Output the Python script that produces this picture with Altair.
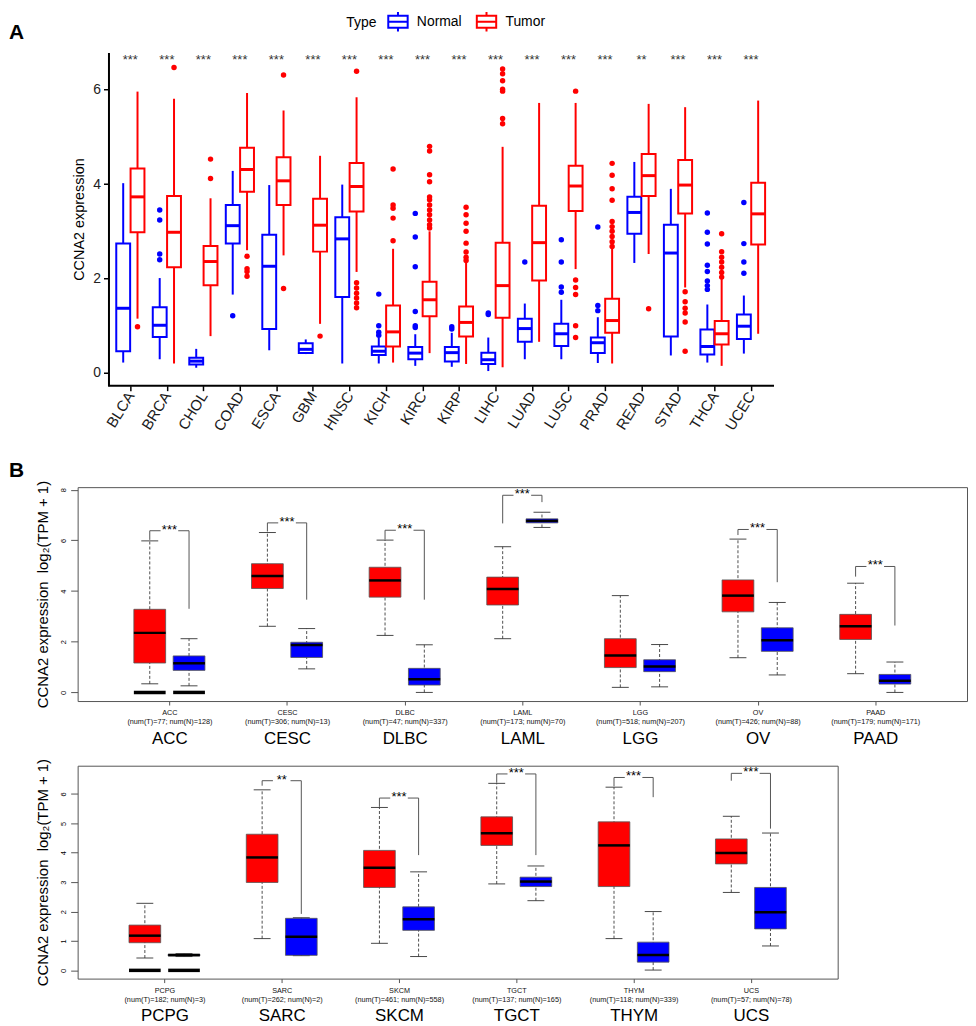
import json
import altair as alt
import pandas as pd

FONT = "Liberation Sans"

# ---------------- Panel A data ----------------
a_cancers = ["BLCA", "BRCA", "CHOL", "COAD", "ESCA", "GBM", "HNSC", "KICH", "KIRC",
             "KIRP", "LIHC", "LUAD", "LUSC", "PRAD", "READ", "STAD", "THCA", "UCEC"]
a_sig = ["***", "***", "***", "***", "***", "***", "***", "***", "***",
         "***", "***", "***", "***", "***", "**", "***", "***", "***"]

a_n_lo = [0.22, 0.29, 0.11, 1.66, 0.48, 0.40, 0.20, 0.20, 0.15, 0.13, 0.04, 0.29, 0.29, 0.21, 2.33, 0.37, 0.22, 0.41]
a_n_q1 = [0.46, 0.76, 0.18, 2.74, 0.93, 0.42, 1.61, 0.38, 0.29, 0.24, 0.19, 0.66, 0.57, 0.42, 2.95, 0.77, 0.39, 0.72]
a_n_med = [1.37, 1.01, 0.25, 3.12, 2.26, 0.50, 2.84, 0.46, 0.42, 0.43, 0.28, 0.94, 0.83, 0.64, 3.40, 2.54, 0.56, 0.99]
a_n_q3 = [2.74, 1.39, 0.32, 3.56, 2.93, 0.63, 3.30, 0.56, 0.55, 0.55, 0.43, 1.15, 1.04, 0.75, 3.73, 3.14, 0.92, 1.24]
a_n_hi = [4.02, 2.01, 0.51, 4.28, 3.98, 0.71, 3.99, 0.75, 0.82, 0.85, 0.75, 1.47, 1.55, 1.18, 4.47, 3.90, 1.45, 1.64]
a_n_out = [[], [3.45, 3.24, 2.52, 2.40], [], [1.21], [], [], [], [1.67, 1.00, 0.86, 0.80],
           [3.38, 2.88, 2.25, 1.30, 1.00, 0.96], [0.98, 0.93], [1.27, 1.24], [2.35],
           [2.82, 2.35, 1.82, 1.71], [3.09, 1.43, 1.32], [], [],
           [3.39, 2.98, 2.73, 2.28, 2.15, 1.95, 1.85, 1.77], [3.61, 2.74, 2.35, 2.11]]

a_t_lo = [1.15, 0.20, 0.78, 2.60, 2.49, 1.04, 2.14, 0.22, 0.42, 0.19, 0.12, 0.66, 2.20, 0.20, 2.52, 1.81, 0.15, 0.83]
a_t_q1 = [2.98, 2.24, 1.86, 3.84, 3.56, 2.57, 3.42, 0.56, 1.20, 0.77, 1.17, 1.96, 3.43, 0.85, 3.75, 3.38, 0.60, 2.72]
a_t_med = [3.73, 2.98, 2.36, 4.31, 4.07, 3.13, 3.95, 0.87, 1.55, 1.07, 1.85, 2.76, 3.96, 1.11, 4.18, 3.98, 0.83, 3.37]
a_t_q3 = [4.33, 3.75, 2.69, 4.77, 4.57, 3.69, 4.45, 1.43, 1.93, 1.41, 2.76, 3.54, 4.39, 1.57, 4.64, 4.51, 1.10, 4.03]
a_t_hi = [5.96, 5.81, 3.70, 5.93, 5.56, 4.60, 5.84, 2.63, 3.00, 2.33, 4.79, 5.72, 5.72, 2.64, 5.70, 5.63, 2.01, 5.77]
a_t_out = [[0.98], [6.47], [4.53, 4.12], [2.47, 2.21, 2.15, 2.05], [6.31, 1.79], [0.78],
           [6.39, 1.91, 1.80, 1.69, 1.59, 1.48, 1.38], [4.32, 3.56, 3.49, 3.28, 2.80],
           [4.80, 4.70, 4.20, 4.05, 3.73, 3.67, 3.56, 3.45, 3.35, 3.24, 3.14, 3.07],
           [3.51, 3.35, 3.17, 3.00, 2.75, 2.56, 2.45, 2.38],
           [6.44, 6.34, 6.19, 6.01, 5.97, 5.39, 5.28], [],
           [5.97, 1.97, 1.81, 1.66, 1.00, 0.75],
           [4.44, 4.19, 3.90, 3.66, 3.21, 3.10, 3.00, 2.89, 2.78, 2.68], [1.36],
           [1.72, 1.51, 1.37, 1.27, 1.08, 0.46], [2.95, 2.57, 2.45, 2.35, 2.24, 2.13, 2.03], []]
a_star_y = 6.54

# ---------------- Panel B data (row 1) ----------------
b1_cancers = ["ACC", "CESC", "DLBC", "LAML", "LGG", "OV", "PAAD"]
b1_num_t = [77, 306, 47, 173, 518, 426, 179]
b1_num_n = [128, 13, 337, 70, 207, 88, 171]
b1_t_lo = [0.34, 2.61, 2.25, 2.12, 0.20, 1.37, 0.74]
b1_t_q1 = [1.16, 4.10, 3.76, 3.45, 0.98, 3.18, 2.09]
b1_t_med = [2.35, 4.59, 4.42, 4.08, 1.46, 3.82, 2.61]
b1_t_q3 = [3.28, 5.08, 4.94, 4.55, 2.12, 4.44, 3.08]
b1_t_hi = [5.98, 6.31, 6.01, 5.75, 3.82, 6.05, 4.31]
b1_n_lo = [0.26, 0.93, 0.00, 6.51, 0.22, 0.69, 0.00]
b1_n_q1 = [0.87, 1.38, 0.29, 6.69, 0.82, 1.62, 0.33]
b1_n_med = [1.15, 1.87, 0.52, 6.77, 1.02, 2.06, 0.46]
b1_n_q3 = [1.44, 1.98, 0.95, 6.85, 1.29, 2.55, 0.71]
b1_n_hi = [2.12, 2.52, 1.88, 7.11, 1.89, 3.55, 1.20]
b1_zero = [("ACC", "Tumor"), ("ACC", "Normal")]
b1_br_cat = ["ACC", "CESC", "DLBC", "LAML", "OV", "PAAD"]
b1_br_top = [6.38, 6.69, 6.40, 7.78, 6.43, 4.97]
b1_br_left = [6.02, 6.35, 6.03, 6.67, 6.21, 4.57]
b1_br_right = [3.30, 3.66, 3.66, 7.51, 4.35, 2.64]
b1_br_sig = ["***", "***", "***", "***", "***", "***"]

# ---------------- Panel B data (row 2) ----------------
b2_cancers = ["PCPG", "SARC", "SKCM", "TGCT", "THYM", "UCS"]
b2_num_t = [182, 262, 461, 137, 118, 57]
b2_num_n = [3, 2, 558, 165, 339, 78]
b2_t_lo = [0.42, 1.08, 0.92, 2.94, 1.08, 2.65]
b2_t_q1 = [0.94, 2.99, 2.82, 4.25, 2.85, 3.62]
b2_t_med = [1.18, 3.84, 3.49, 4.66, 4.25, 3.99]
b2_t_q3 = [1.54, 4.63, 4.08, 5.22, 5.05, 4.47]
b2_t_hi = [2.28, 6.14, 5.54, 6.36, 6.23, 5.24]
b2_n_lo = [0.47, 0.50, 0.47, 2.37, 0.01, 0.83]
b2_n_q1 = [0.49, 0.51, 1.36, 2.85, 0.28, 1.41]
b2_n_med = [0.52, 1.14, 1.74, 3.02, 0.52, 1.98]
b2_n_q3 = [0.55, 1.77, 2.16, 3.17, 0.96, 2.82]
b2_n_hi = [0.57, 1.79, 3.35, 3.55, 2.00, 4.67]
b2_zero = [("PCPG", "Tumor"), ("PCPG", "Normal")]
b2_br_cat = ["SARC", "SKCM", "TGCT", "THYM", "UCS"]
b2_br_top = [6.45, 5.86, 6.68, 6.56, 6.70]
b2_br_left = [6.28, 5.56, 6.38, 6.26, 6.45]
b2_br_right = [1.92, 3.92, 3.92, 5.89, 4.82]
b2_br_sig = ["**", "***", "***", "***", "***"]

# ---------------- Panel A chart ----------------
A_OFF = 0.196
A_HALF = 0.19
a_rows, a_out_rows = [], []
for i, c in enumerate(a_cancers):
    for grp, sgn, st, outs in (("Normal", -1, (a_n_lo, a_n_q1, a_n_med, a_n_q3, a_n_hi), a_n_out),
                               ("Tumor", 1, (a_t_lo, a_t_q1, a_t_med, a_t_q3, a_t_hi), a_t_out)):
        p = i + sgn * A_OFF
        a_rows.append({"cancer": c, "grp": grp, "pos": p, "x0": p - A_HALF, "x1": p + A_HALF,
                       "lo": st[0][i], "q1": st[1][i], "med": st[2][i], "q3": st[3][i], "hi": st[4][i]})
        for v in outs[i]:
            a_out_rows.append({"cancer": c, "grp": grp, "pos": p, "val": v})
a_box = pd.DataFrame(a_rows)
a_outs = pd.DataFrame(a_out_rows)
a_stars = pd.DataFrame({"i": list(range(len(a_cancers))), "sig": a_sig, "y": [a_star_y] * len(a_cancers)})

AX_DOM = [-1.444, 17.63]
AY_DOM = [-0.27, 6.79]
ax_scale = alt.Scale(domain=AX_DOM, nice=False, zero=False)
ay_scale = alt.Scale(domain=AY_DOM, nice=False, zero=False)
col_scale = alt.Scale(domain=["Normal", "Tumor"], range=["#0000FF", "#FF0000"])
box_path = "M-1,-0.62H1V0.62H-1Z M-1,0H1 M0,-0.62V-1 M0,0.62V1"
a_legend = alt.Legend(title="Type", orient="none", legendX=270, legendY=-42, direction="horizontal",
                      titleOrient="left", symbolType=box_path, symbolSize=380, symbolStrokeWidth=2,
                      symbolFillColor="white", labelFontSize=14, titleFontSize=14,
                      titleFontWeight="normal", titleColor="black", labelColor="black",
                      columnPadding=10, titlePadding=10, labelOffset=8, titleBaseline="middle",
                      titleAnchor="middle")
stroke_enc = alt.Stroke("grp:N", scale=col_scale, legend=a_legend)

a_xaxis = alt.Axis(values=list(range(len(a_cancers))),
                   labelExpr=json.dumps(a_cancers) + "[datum.value]",
                   domain=False, ticks=True, tickColor="black", tickWidth=1.5, tickSize=5,
                   labelAngle=-58, labelAlign="right", labelBaseline="middle", labelFontSize=15,
                   labelColor="#1a1a1a", labelPadding=2, grid=False, title=None)
a_yaxis = alt.Axis(values=[0, 2, 4, 6], offset=-31, domainColor="black", domainWidth=2,
                   tickColor="black", tickWidth=1.5, tickSize=5, labelFontSize=14,
                   labelColor="#222222", labelPadding=3, grid=False, title="CCNA2 expression",
                   titleFontSize=14.5, titleFontWeight="normal", titleColor="black", titlePadding=6)

base_a = alt.Chart(a_box)
a_axisline = alt.Chart(pd.DataFrame({"x": [-0.608], "x2": [AX_DOM[1]], "y": [AY_DOM[0]]})).mark_rule(
    color="black", strokeWidth=2).encode(
    x=alt.X("x:Q", scale=ax_scale, axis=None), x2="x2:Q", y=alt.Y("y:Q", scale=ay_scale, axis=None))
a_whisk = base_a.mark_rule(strokeWidth=2).encode(
    x=alt.X("pos:Q", scale=ax_scale, axis=None), y=alt.Y("lo:Q", scale=ay_scale, axis=None), y2="hi:Q",
    stroke=stroke_enc)
a_boxes = base_a.mark_rect(fill="white", strokeWidth=2).encode(
    x=alt.X("x0:Q", scale=ax_scale, axis=a_xaxis), x2="x1:Q",
    y=alt.Y("q1:Q", scale=ay_scale, axis=a_yaxis), y2="q3:Q", stroke=stroke_enc)
a_meds = base_a.mark_rule(strokeWidth=3).encode(
    x=alt.X("x0:Q", scale=ax_scale, axis=None), x2="x1:Q",
    y=alt.Y("med:Q", scale=ay_scale, axis=None), stroke=stroke_enc)
a_pts_n = alt.Chart(a_outs).transform_filter(alt.datum.grp == "Normal").mark_circle(
    size=30, opacity=1, color="#0000FF").encode(
    x=alt.X("pos:Q", scale=ax_scale, axis=None), y=alt.Y("val:Q", scale=ay_scale, axis=None))
a_pts_t = alt.Chart(a_outs).transform_filter(alt.datum.grp == "Tumor").mark_circle(
    size=30, opacity=1, color="#FF0000").encode(
    x=alt.X("pos:Q", scale=ax_scale, axis=None), y=alt.Y("val:Q", scale=ay_scale, axis=None))
a_txt = alt.Chart(a_stars).mark_text(fontSize=13, color="#333333", baseline="alphabetic").encode(
    x=alt.X("i:Q", scale=ax_scale, axis=None), y=alt.Y("y:Q", scale=ay_scale, axis=None), text="sig:N")
a_letter = alt.Chart(pd.DataFrame({"t": ["A"]})).mark_text(
    fontSize=21, fontWeight="bold", align="left", baseline="alphabetic", color="black").encode(
    x=alt.value(-69), y=alt.value(-13), text="t:N")

chart_a = alt.layer(a_axisline, a_whisk, a_boxes, a_meds, a_pts_n, a_pts_t, a_txt, a_letter).resolve_axis(
    x="independent", y="independent").properties(
    width=700, height=335, view=alt.ViewBackground(stroke="transparent"))

# ---------------- Panel B charts ----------------
B_OFF = 0.167
B_HALF = 0.135
B_CAP = 0.072
B_GAP = 0.075
fill_scale = alt.Scale(domain=["Tumor", "Normal"], range=["#FF0000", "#0000FF"])


def b_panel(cancers, num_t, num_n, t_stats, n_stats, zero_bars, br_cat, br_top, br_left, br_right,
            br_sig, xdom, ydom, yticks, width, height, big_pad, letter=None):
    rows = []
    for i, c in enumerate(cancers):
        for grp, sgn, st in (("Tumor", -1, t_stats), ("Normal", 1, n_stats)):
            p = i + sgn * B_OFF
            rows.append({"cancer": c, "grp": grp, "pos": p, "x0": p - B_HALF, "x1": p + B_HALF,
                         "c0": p - B_CAP, "c1": p + B_CAP,
                         "lo": st[0][i], "q1": st[1][i], "med": st[2][i], "q3": st[3][i], "hi": st[4][i]})
    box = pd.DataFrame(rows)
    zrows = []
    for c, grp in zero_bars:
        i = cancers.index(c)
        p = i + (-1 if grp == "Tumor" else 1) * B_OFF
        zrows.append({"x0": p - B_HALF, "x1": p + B_HALF, "y": 0.0})
    zero = pd.DataFrame(zrows)
    segs, stars = [], []
    for c, top, le, ri, s in zip(br_cat, br_top, br_left, br_right, br_sig):
        i = cancers.index(c)
        xt, xn = i - B_OFF, i + B_OFF
        segs += [{"x": xt, "x2": i - B_GAP, "y": top, "y2": top},
                 {"x": i + B_GAP, "x2": xn, "y": top, "y2": top},
                 {"x": xt, "x2": xt, "y": top, "y2": le},
                 {"x": xn, "x2": xn, "y": top, "y2": ri}]
        stars.append({"i": i, "y": top, "sig": s})
    segs = pd.DataFrame(segs)
    stars = pd.DataFrame(stars)

    xs = alt.Scale(domain=xdom, nice=False, zero=False)
    ys = alt.Scale(domain=ydom, nice=False, zero=False)
    nums = ["(num(T)=%d; num(N)=%d)" % (t, n) for t, n in zip(num_t, num_n)]
    vals = list(range(len(cancers)))
    small_axis = alt.Axis(values=vals, orient="bottom",
                          labelExpr="[" + json.dumps(cancers) + "[datum.value], " + json.dumps(nums) + "[datum.value]]",
                          domain=False, ticks=True, tickSize=4, tickColor="#555555", labelFontSize=7.3,
                          labelLineHeight=9, labelPadding=4, labelBaseline="top", labelColor="#111111",
                          grid=False, title=None)
    big_axis = alt.Axis(values=vals, orient="bottom", labelExpr=json.dumps(cancers) + "[datum.value]",
                        domain=False, ticks=False, labelFontSize=17, labelPadding=big_pad,
                        labelBaseline="alphabetic", labelColor="black", grid=False, title=None)
    y_axis = alt.Axis(values=yticks, orient="left", domain=False, tickSize=7, tickColor="#555555",
                      labelAngle=-90, labelAlign="center", labelBaseline="bottom", labelFontSize=7.5,
                      labelColor="black", labelPadding=3, grid=False,
                      title="CCNA2 expression\u00a0\u00a0log\u2082(TPM + 1)", titleFontSize=15,
                      titleFontWeight="normal", titleColor="black", titlePadding=9)

    base = alt.Chart(box)
    whisk = base.mark_rule(color="#222222", strokeWidth=0.8, strokeDash=[3, 2]).encode(
        x=alt.X("pos:Q", scale=xs, axis=big_axis), y=alt.Y("lo:Q", scale=ys, axis=None), y2="hi:Q")
    cap_hi = base.mark_rule(color="#333333", strokeWidth=0.9).encode(
        x=alt.X("c0:Q", scale=xs, axis=None), x2="c1:Q", y=alt.Y("hi:Q", scale=ys, axis=None))
    cap_lo = base.mark_rule(color="#333333", strokeWidth=0.9).encode(
        x=alt.X("c0:Q", scale=xs, axis=None), x2="c1:Q", y=alt.Y("lo:Q", scale=ys, axis=None))
    boxes = base.mark_rect(stroke="#555555", strokeWidth=0.8).encode(
        x=alt.X("x0:Q", scale=xs, axis=small_axis), x2="x1:Q",
        y=alt.Y("q1:Q", scale=ys, axis=y_axis), y2="q3:Q",
        fill=alt.Fill("grp:N", scale=fill_scale, legend=None))
    meds = base.mark_rule(color="black", strokeWidth=2.5).encode(
        x=alt.X("x0:Q", scale=xs, axis=None), x2="x1:Q", y=alt.Y("med:Q", scale=ys, axis=None))
    layers = [whisk, cap_hi, cap_lo, boxes, meds]
    if len(zero):
        layers.append(alt.Chart(zero).mark_rule(color="black", strokeWidth=3.5).encode(
            x=alt.X("x0:Q", scale=xs, axis=None), x2="x1:Q", y=alt.Y("y:Q", scale=ys, axis=None)))
    layers.append(alt.Chart(segs).mark_rule(color="#555555", strokeWidth=1).encode(
        x=alt.X("x:Q", scale=xs, axis=None), x2="x2:Q", y=alt.Y("y:Q", scale=ys, axis=None), y2="y2:Q"))
    layers.append(alt.Chart(stars).mark_text(fontSize=13, color="black", baseline="alphabetic", dy=3).encode(
        x=alt.X("i:Q", scale=xs, axis=None), y=alt.Y("y:Q", scale=ys, axis=None), text="sig:N"))
    if letter:
        layers.append(alt.Chart(pd.DataFrame({"t": [letter]})).mark_text(
            fontSize=21, fontWeight="bold", align="left", baseline="alphabetic", color="black").encode(
            x=alt.value(-69), y=alt.value(-10), text="t:N"))
    return alt.layer(*layers).resolve_axis(x="independent", y="independent").properties(
        width=width, height=height, view=alt.ViewBackground(stroke="#555555", strokeWidth=1))


chart_b1 = b_panel(b1_cancers, b1_num_t, b1_num_n,
                   (b1_t_lo, b1_t_q1, b1_t_med, b1_t_q3, b1_t_hi),
                   (b1_n_lo, b1_n_q1, b1_n_med, b1_n_q3, b1_n_hi),
                   b1_zero, b1_br_cat, b1_br_top, b1_br_left, b1_br_right, b1_br_sig,
                   [-0.78, 6.78], [-0.34, 8.1], [0, 2, 4, 6, 8], 894, 215, 43, letter="B")
chart_b2 = b_panel(b2_cancers, b2_num_t, b2_num_n,
                   (b2_t_lo, b2_t_q1, b2_t_med, b2_t_q3, b2_t_hi),
                   (b2_n_lo, b2_n_q1, b2_n_med, b2_n_q3, b2_n_hi),
                   b2_zero, b2_br_cat, b2_br_top, b2_br_left, b2_br_right, b2_br_sig,
                   [-0.74, 5.74], [-0.28, 6.96], [0, 1, 2, 3, 4, 5, 6], 764, 214, 42)


def spacer(h):
    return alt.Chart(pd.DataFrame({"v": [0]})).mark_point(opacity=0).encode(
        x=alt.value(0), y=alt.value(0)).properties(
        width=20, height=h, view=alt.ViewBackground(stroke="transparent"))


chart = alt.vconcat(chart_a, spacer(102), chart_b1, spacer(65), chart_b2,
                    spacing=0, bounds="flush").properties(
    padding={"left": 0, "top": 0, "right": 0, "bottom": 0}
).configure(font=FONT).configure_view(stroke="transparent")

chart.save("out.html", embed_options={"renderer": "svg", "actions": False})
